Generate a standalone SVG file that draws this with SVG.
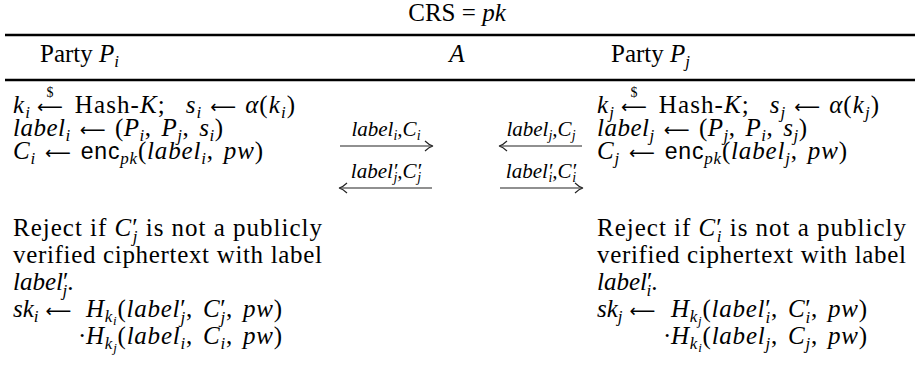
<svg xmlns="http://www.w3.org/2000/svg" width="915" height="376" viewBox="0 0 915 376">
  <style>
    text { font-family: "Liberation Serif", "Times New Roman", serif; font-size: 25px; fill: #000; }
    .i { font-style: italic; }
    .s { font-size: 17px; }
    .ss { font-size: 13px; }
    .ar { font-family: "DejaVu Sans", sans-serif; font-size: 18px; font-style: normal; }
    .sf { font-family: "Liberation Sans", Arial, sans-serif; font-size: 23px; }
    .lab { font-size: 21px; font-style: italic; }
    .ls { font-size: 14px; }
    .dl { font-size: 14px; }
    .rule { stroke: #000; stroke-width: 2.5; }
    .wire { stroke: #222; stroke-width: 1.1; fill: none; }
  </style>

  <!-- common reference string -->
  <text x="457" y="21" text-anchor="middle">CRS = <tspan class="i">pk</tspan></text>

  <!-- table rules -->
  <line class="rule" x1="5" y1="35" x2="915" y2="35"/>
  <line class="rule" x1="5" y1="80" x2="915" y2="80"/>

  <!-- column headers -->
  <g id="header">
    <text x="40" y="62">Party <tspan class="i">P</tspan><tspan class="s i" dy="5">i</tspan></text>
    <text x="457" y="62" text-anchor="middle" class="i">A</text>
    <text x="611" y="62">Party <tspan class="i">P</tspan><tspan class="s i" dy="5">j</tspan></text>
  </g>

  <!-- party P_i -->
  <g id="party-i">
    <text x="13" y="113" textLength="282" lengthAdjust="spacing"><tspan class="i">k</tspan><tspan class="s i" dy="5">i</tspan><tspan class="ar" dx="6" dy="-5">⟵</tspan><tspan dx="11">Hash-</tspan><tspan class="i">K</tspan>;<tspan class="i" dx="20">s</tspan><tspan class="s i" dy="5">i</tspan><tspan class="ar" dx="8" dy="-5">⟵</tspan><tspan class="i" dx="8">α</tspan>(<tspan class="i">k</tspan><tspan class="s i" dy="5">i</tspan><tspan dy="-5">)</tspan></text>
    <text x="50" y="97" class="dl" text-anchor="middle">$</text>
    <text x="13" y="136" textLength="210" lengthAdjust="spacing"><tspan class="i">label</tspan><tspan class="s i" dy="5">i</tspan><tspan class="ar" dx="9" dy="-5">⟵</tspan><tspan dx="9">(</tspan><tspan class="i">P</tspan><tspan class="s i" dy="5">i</tspan><tspan dy="-5">,</tspan><tspan class="i" dx="10">P</tspan><tspan class="s i" dy="5">j</tspan><tspan dy="-5">,</tspan><tspan class="i" dx="10">s</tspan><tspan class="s i" dy="5">i</tspan><tspan dy="-5">)</tspan></text>
    <text x="13" y="159" textLength="250" lengthAdjust="spacing"><tspan class="i">C</tspan><tspan class="s i" dy="5">i</tspan><tspan class="ar" dx="9" dy="-5">⟵</tspan><tspan class="sf" dx="9">enc</tspan><tspan class="s i" dy="5">pk</tspan><tspan dy="-5">(</tspan><tspan class="i">label</tspan><tspan class="s i" dy="5">i</tspan><tspan dy="-5">,</tspan><tspan class="i" dx="10">pw</tspan>)</text>
    <text x="13" y="236" textLength="309" lengthAdjust="spacing">Reject if <tspan class="i">C</tspan>′<tspan class="s i" dx="-6" dy="6">j</tspan><tspan dy="-6"> is not a publicly</tspan></text>
    <text x="13" y="263" textLength="309" lengthAdjust="spacing">verified ciphertext with label</text>
    <text x="13" y="290"><tspan class="i">label</tspan>′<tspan class="s i" dx="-6" dy="6">j</tspan><tspan dy="-6">.</tspan></text>
    <text x="13" y="317"><tspan class="i">sk</tspan><tspan class="s i" dy="5">i</tspan><tspan class="ar" dx="7" dy="-5">⟵</tspan></text>
    <text x="86" y="317" textLength="196" lengthAdjust="spacing"><tspan class="i">H</tspan><tspan class="s i" dy="5">k</tspan><tspan class="ss i" dy="3">i</tspan><tspan dy="-8">(</tspan><tspan class="i">label</tspan>′<tspan class="s i" dx="-6" dy="6">j</tspan><tspan dy="-6">,</tspan><tspan class="i" dx="10">C</tspan>′<tspan class="s i" dx="-6" dy="6">j</tspan><tspan dy="-6">,</tspan><tspan class="i" dx="10">pw</tspan>)</text>
    <text x="78" y="344">·</text>
    <text x="86" y="344" textLength="196" lengthAdjust="spacing"><tspan class="i">H</tspan><tspan class="s i" dy="5">k</tspan><tspan class="ss i" dy="3">j</tspan><tspan dy="-8">(</tspan><tspan class="i">label</tspan><tspan class="s i" dy="5">i</tspan><tspan dy="-5">,</tspan><tspan class="i" dx="10">C</tspan><tspan class="s i" dy="5">i</tspan><tspan dy="-5">,</tspan><tspan class="i" dx="10">pw</tspan>)</text>
  </g>

  <!-- party P_j -->
  <g id="party-j">
    <text x="597" y="113" textLength="282" lengthAdjust="spacing"><tspan class="i">k</tspan><tspan class="s i" dy="5">j</tspan><tspan class="ar" dx="6" dy="-5">⟵</tspan><tspan dx="11">Hash-</tspan><tspan class="i">K</tspan>;<tspan class="i" dx="20">s</tspan><tspan class="s i" dy="5">j</tspan><tspan class="ar" dx="8" dy="-5">⟵</tspan><tspan class="i" dx="8">α</tspan>(<tspan class="i">k</tspan><tspan class="s i" dy="5">j</tspan><tspan dy="-5">)</tspan></text>
    <text x="634" y="97" class="dl" text-anchor="middle">$</text>
    <text x="597" y="136" textLength="210" lengthAdjust="spacing"><tspan class="i">label</tspan><tspan class="s i" dy="5">j</tspan><tspan class="ar" dx="9" dy="-5">⟵</tspan><tspan dx="9">(</tspan><tspan class="i">P</tspan><tspan class="s i" dy="5">j</tspan><tspan dy="-5">,</tspan><tspan class="i" dx="10">P</tspan><tspan class="s i" dy="5">i</tspan><tspan dy="-5">,</tspan><tspan class="i" dx="10">s</tspan><tspan class="s i" dy="5">j</tspan><tspan dy="-5">)</tspan></text>
    <text x="597" y="159" textLength="250" lengthAdjust="spacing"><tspan class="i">C</tspan><tspan class="s i" dy="5">j</tspan><tspan class="ar" dx="9" dy="-5">⟵</tspan><tspan class="sf" dx="9">enc</tspan><tspan class="s i" dy="5">pk</tspan><tspan dy="-5">(</tspan><tspan class="i">label</tspan><tspan class="s i" dy="5">j</tspan><tspan dy="-5">,</tspan><tspan class="i" dx="10">pw</tspan>)</text>
    <text x="597" y="236" textLength="309" lengthAdjust="spacing">Reject if <tspan class="i">C</tspan>′<tspan class="s i" dx="-6" dy="6">i</tspan><tspan dy="-6"> is not a publicly</tspan></text>
    <text x="597" y="263" textLength="309" lengthAdjust="spacing">verified ciphertext with label</text>
    <text x="597" y="290"><tspan class="i">label</tspan>′<tspan class="s i" dx="-6" dy="6">i</tspan><tspan dy="-6">.</tspan></text>
    <text x="597" y="317"><tspan class="i">sk</tspan><tspan class="s i" dy="5">j</tspan><tspan class="ar" dx="7" dy="-5">⟵</tspan></text>
    <text x="671" y="317" textLength="196" lengthAdjust="spacing"><tspan class="i">H</tspan><tspan class="s i" dy="5">k</tspan><tspan class="ss i" dy="3">j</tspan><tspan dy="-8">(</tspan><tspan class="i">label</tspan>′<tspan class="s i" dx="-6" dy="6">i</tspan><tspan dy="-6">,</tspan><tspan class="i" dx="10">C</tspan>′<tspan class="s i" dx="-6" dy="6">i</tspan><tspan dy="-6">,</tspan><tspan class="i" dx="10">pw</tspan>)</text>
    <text x="663" y="344">·</text>
    <text x="671" y="344" textLength="196" lengthAdjust="spacing"><tspan class="i">H</tspan><tspan class="s i" dy="5">k</tspan><tspan class="ss i" dy="3">i</tspan><tspan dy="-8">(</tspan><tspan class="i">label</tspan><tspan class="s i" dy="5">j</tspan><tspan dy="-5">,</tspan><tspan class="i" dx="10">C</tspan><tspan class="s i" dy="5">j</tspan><tspan dy="-5">,</tspan><tspan class="i" dx="10">pw</tspan>)</text>
  </g>

  <!-- messages between the parties -->
  <g id="connectors">
    <line class="wire" x1="340" y1="146" x2="432" y2="146"/>
    <path class="wire" d="M425,141 Q429,145 433,146 Q429,147 425,151"/>
    <text x="386" y="136" text-anchor="middle" class="lab">label<tspan class="ls" dy="4">i</tspan><tspan dy="-4">,C</tspan><tspan class="ls" dy="4">i</tspan></text>

    <line class="wire" x1="500" y1="146" x2="582" y2="146"/>
    <path class="wire" d="M507,141 Q503,145 499,146 Q503,147 507,151"/>
    <text x="541" y="136" text-anchor="middle" class="lab">label<tspan class="ls" dy="4">j</tspan><tspan dy="-4">,C</tspan><tspan class="ls" dy="4">j</tspan></text>

    <line class="wire" x1="340" y1="188" x2="432" y2="188"/>
    <path class="wire" d="M347,183 Q343,187 339,188 Q343,189 347,193"/>
    <text x="386" y="178" text-anchor="middle" class="lab">label′<tspan class="ls" dx="-4" dy="4">j</tspan><tspan dy="-4">,C′</tspan><tspan class="ls" dx="-4" dy="4">j</tspan></text>

    <line class="wire" x1="500" y1="188" x2="582" y2="188"/>
    <path class="wire" d="M575,183 Q579,187 583,188 Q579,189 575,193"/>
    <text x="541" y="178" text-anchor="middle" class="lab">label′<tspan class="ls" dx="-4" dy="4">i</tspan><tspan dy="-4">,C′</tspan><tspan class="ls" dx="-4" dy="4">i</tspan></text>
  </g>
</svg>
